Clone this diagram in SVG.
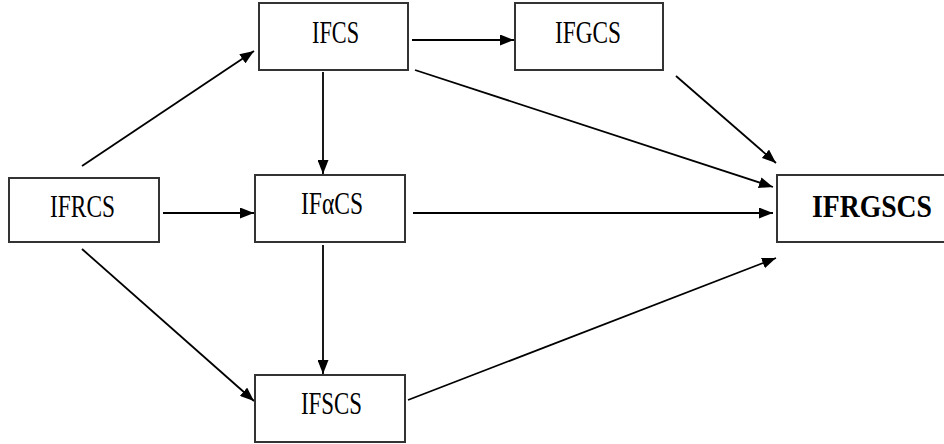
<svg xmlns="http://www.w3.org/2000/svg" width="944" height="444" viewBox="0 0 944 444">
<defs>
<marker id="ah" viewBox="0 0 14 11" refX="14" refY="5.5" markerWidth="14" markerHeight="11" markerUnits="userSpaceOnUse" orient="auto">
<path d="M0,0 L14,5.5 L0,11 z" fill="#000"/>
</marker>
<style>
.box{fill:#fff;stroke:#333;stroke-width:2}
.lbl{font-family:"Liberation Serif","Times New Roman",serif;font-size:32px;fill:#000}
.b{font-weight:bold}
.c line{stroke:#000;stroke-width:1.8;marker-end:url(#ah)}
</style>
</defs>
<rect width="944" height="444" fill="#fff"/>
<g class="c">
<line x1="82" y1="166" x2="254" y2="51"/>
<line x1="412" y1="40" x2="514" y2="40"/>
<line x1="415" y1="70" x2="773" y2="187"/>
<line x1="676" y1="76" x2="776" y2="163"/>
<line x1="163" y1="213" x2="254" y2="213"/>
<line x1="413" y1="213" x2="773" y2="213"/>
<line x1="82" y1="249" x2="254" y2="401"/>
<line x1="323" y1="72" x2="323" y2="174"/>
<line x1="323" y1="245" x2="323" y2="374"/>
<line x1="408" y1="400" x2="776" y2="258"/>
</g>
<g id="IFRCS"><rect class="box" x="9" y="178" width="150" height="64"/><text class="lbl" x="50" y="217" textLength="65" lengthAdjust="spacingAndGlyphs">IFRCS</text></g>
<g id="IFCS"><rect class="box" x="259" y="3" width="149" height="67"/><text class="lbl" x="312" y="43" textLength="47" lengthAdjust="spacingAndGlyphs">IFCS</text></g>
<g id="IFGCS"><rect class="box" x="515" y="3" width="148" height="67"/><text class="lbl" x="555" y="43" textLength="66" lengthAdjust="spacingAndGlyphs">IFGCS</text></g>
<g id="IFaCS"><rect class="box" x="255" y="175" width="150" height="67"/><text class="lbl" x="301" y="214" textLength="62" lengthAdjust="spacingAndGlyphs">IFαCS</text></g>
<g id="IFSCS"><rect class="box" x="255" y="375" width="150" height="67"/><text class="lbl" x="301" y="414" textLength="61" lengthAdjust="spacingAndGlyphs">IFSCS</text></g>
<g id="IFRGSCS"><rect class="box" x="777" y="175" width="170" height="67"/><text class="lbl b" x="812" y="217" textLength="120" lengthAdjust="spacingAndGlyphs">IFRGSCS</text></g>
</svg>
